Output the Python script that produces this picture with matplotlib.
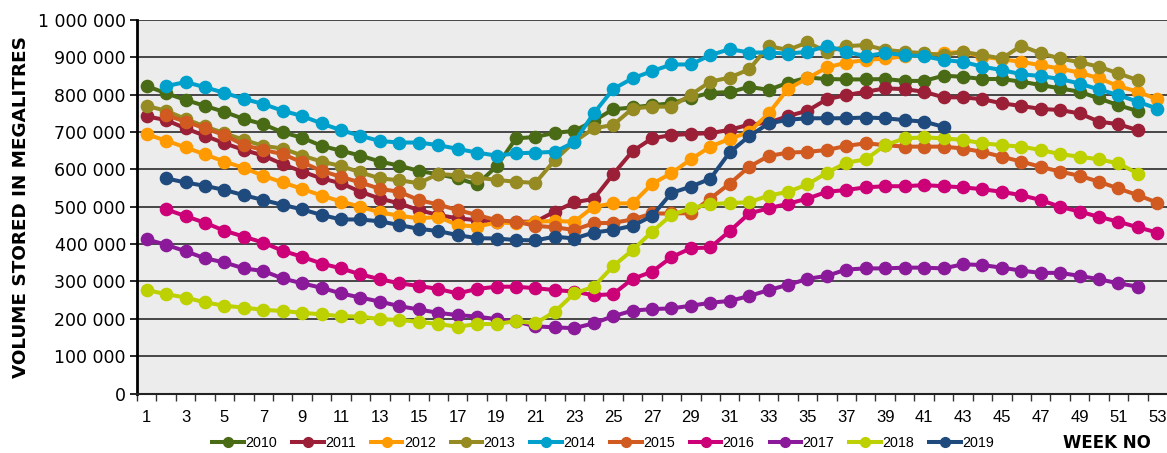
import matplotlib
matplotlib.use("Agg")
import matplotlib.pyplot as plt
from matplotlib.ticker import FuncFormatter, FixedLocator
from matplotlib import font_manager
import numpy as np

weeks = list(range(1, 54))
years = ["2010", "2011", "2012", "2013", "2014", "2015", "2016", "2017", "2018", "2019"]
colors = ["#4a6b16", "#9b1f37", "#ff9a00", "#968a22", "#00a0cc",
          "#d05a20", "#cc0077", "#8a1a9a", "#bdd000", "#1f4a7e"]

# values in thousand megalitres; None = no data
s2010 = [823, 804, 786, 770, 754, 735, 721, 699, 685, 663, 650, 637, 621, 610, 596, 587, 576, 560,
         608, 683, 687, 698, 703, 730, 761, 766, 772, 777, 792, 805, 807, 821, 813, 832, 846, 842,
         841, 841, 842, 837, 837, 851, 848, 842, 842, 835, 826, 817, 808, 790, 772, 756]
s2011 = [742, 732, 710, 690, 670, 652, 637, 614, 594, 576, 563, 540, 522, 509, 491, 478, 469, 464,
         460, 460, 460, 487, 512, 521, 587, 649, 683, 692, 695, 697, 706, 720, 725, 743, 757, 788,
         799, 808, 817, 815, 808, 793, 793, 788, 777, 770, 762, 759, 750, 728, 721, 705]
s2012 = [694, 677, 659, 640, 621, 604, 583, 565, 548, 530, 514, 500, 485, 476, 469, 473, 451, 447,
         458, 456, 460, 462, 460, 500, 509, 509, 561, 590, 627, 661, 682, 700, 750, 816, 844, 873,
         886, 893, 897, 903, 906, 911, 915, 902, 895, 888, 879, 870, 859, 844, 823, 808, 788]
s2013 = [770, 757, 735, 715, 697, 679, 663, 656, 637, 621, 609, 592, 576, 571, 563, 588, 584, 578,
         572, 567, 564, 625, 674, 710, 719, 763, 768, 768, 800, 835, 846, 868, 930, 920, 940, 915,
         930, 933, 920, 915, 911, 906, 915, 906, 897, 931, 911, 897, 887, 875, 857, 839]
s2014 = [None, 823, 834, 820, 805, 789, 775, 757, 743, 723, 705, 690, 676, 672, 672, 665, 655, 645,
         637, 643, 645, 647, 673, 750, 815, 844, 863, 881, 881, 906, 922, 913, 913, 910, 915, 931,
         915, 903, 912, 906, 903, 893, 888, 875, 866, 855, 850, 842, 830, 814, 799, 781, 763]
s2015 = [None, 745, 728, 710, 692, 665, 652, 641, 619, 596, 580, 565, 548, 540, 518, 506, 491, 478,
         464, 460, 449, 445, 438, 456, 457, 466, 482, 482, 483, 522, 562, 607, 636, 645, 647, 652,
         663, 670, 665, 661, 661, 661, 656, 647, 634, 621, 607, 594, 583, 567, 549, 531, 511]
s2016 = [None, 493, 475, 457, 436, 420, 404, 382, 366, 348, 335, 319, 306, 295, 288, 280, 268, 280,
         286, 286, 282, 277, 273, 263, 266, 307, 326, 365, 389, 391, 435, 482, 496, 508, 522, 540,
         545, 552, 555, 555, 558, 555, 552, 547, 540, 531, 518, 500, 487, 473, 460, 445, 431]
s2017 = [413, 398, 381, 362, 351, 335, 328, 308, 295, 283, 268, 257, 246, 234, 225, 216, 210, 206,
         199, 193, 180, 177, 175, 188, 207, 222, 226, 228, 235, 243, 248, 261, 277, 291, 307, 315,
         332, 335, 335, 337, 337, 335, 346, 344, 337, 329, 323, 323, 315, 306, 295, 286]
s2018 = [277, 266, 257, 244, 235, 230, 224, 221, 216, 212, 207, 206, 199, 197, 192, 186, 179, 186,
         186, 194, 188, 219, 268, 286, 341, 384, 433, 478, 496, 507, 510, 512, 530, 540, 560, 591,
         618, 627, 665, 683, 686, 683, 679, 670, 665, 661, 652, 641, 634, 627, 616, 589]
s2019 = [None, 576, 565, 556, 545, 531, 518, 505, 493, 478, 466, 466, 461, 451, 441, 435, 424, 416,
         415, 411, 410, 420, 415, 431, 438, 449, 475, 537, 554, 575, 646, 689, 723, 733, 737, 737,
         737, 739, 737, 732, 728, 714]

series = [s2010, s2011, s2012, s2013, s2014, s2015, s2016, s2017, s2018, s2019]

plt.rcParams['font.family'] = ['Liberation Sans', 'DejaVu Sans']

installed = {f.name for f in font_manager.fontManager.ttflist}
narrow = 'Liberation Sans Narrow' if 'Liberation Sans Narrow' in installed else 'Liberation Sans'
has_narrow = narrow != 'Liberation Sans'

fig = plt.figure(figsize=(11.67, 4.53), dpi=100)
ax = fig.add_axes([0.1174, 0.1313, 0.8826, 0.8245])
ax.set_facecolor("#ececec")

for name, vals, c in zip(years, series, colors):
    x = []
    y = []
    for w, v in zip(weeks, vals):
        x.append(w)
        y.append(np.nan if v is None else v * 1000)
    ax.plot(x, y, color=c, lw=2.9, marker='o', markersize=8.8, label=name,
            solid_joinstyle='round')

ax.set_xlim(0.5, 53.5)
ax.set_ylim(0, 1000000)
ax.set_yticks(np.arange(0, 1000001, 100000))
ax.yaxis.set_major_formatter(FuncFormatter(lambda v, p: f"{int(v):,}".replace(",", " ")))
ax.grid(axis='y', color='#2a2a2a', lw=1.2)
ax.set_axisbelow(True)

ax.xaxis.set_major_locator(FixedLocator([w for w in weeks if w % 2 == 1]))
ax.xaxis.set_minor_locator(FixedLocator([w + 0.5 for w in range(0, 53)]))
ax.tick_params(axis='x', which='major', length=0, pad=12)
ax.tick_params(axis='x', which='minor', length=5, width=1, color='#333333')
ax.tick_params(axis='y', length=5, width=1.2, pad=3)
for lab in ax.get_xticklabels():
    lab.set_family([narrow, 'DejaVu Sans'])
    lab.set_fontsize(13 if has_narrow else 12)
for lab in ax.get_yticklabels():
    lab.set_family(['DejaVu Sans'])
    lab.set_fontsize(12.5)

for sp in ['top', 'right']:
    ax.spines[sp].set_visible(False)
ax.spines['left'].set_linewidth(2)
ax.spines['bottom'].set_linewidth(1.5)
ax.spines['bottom'].set_color('#222222')

ax.set_ylabel("VOLUME STORED IN MEGALITRES", fontweight='bold', fontsize=13.2,
              family=['DejaVu Sans'], labelpad=6)
fig.text(0.986, 0.022, "WEEK NO", fontweight='bold', fontsize=12, family=['DejaVu Sans'],
         ha='right', va='center')

leg = fig.legend(loc='center left', bbox_to_anchor=(0.182, 0.022), ncol=10, frameon=False,
                 prop={'family': [narrow, 'Liberation Sans'], 'size': 12.5 if has_narrow else 10.3},
                 handlelength=2.2, handletextpad=0.1, columnspacing=1.05,
                 markerscale=0.8, borderaxespad=0, borderpad=0)

fig.savefig("out.png", dpi=100)
